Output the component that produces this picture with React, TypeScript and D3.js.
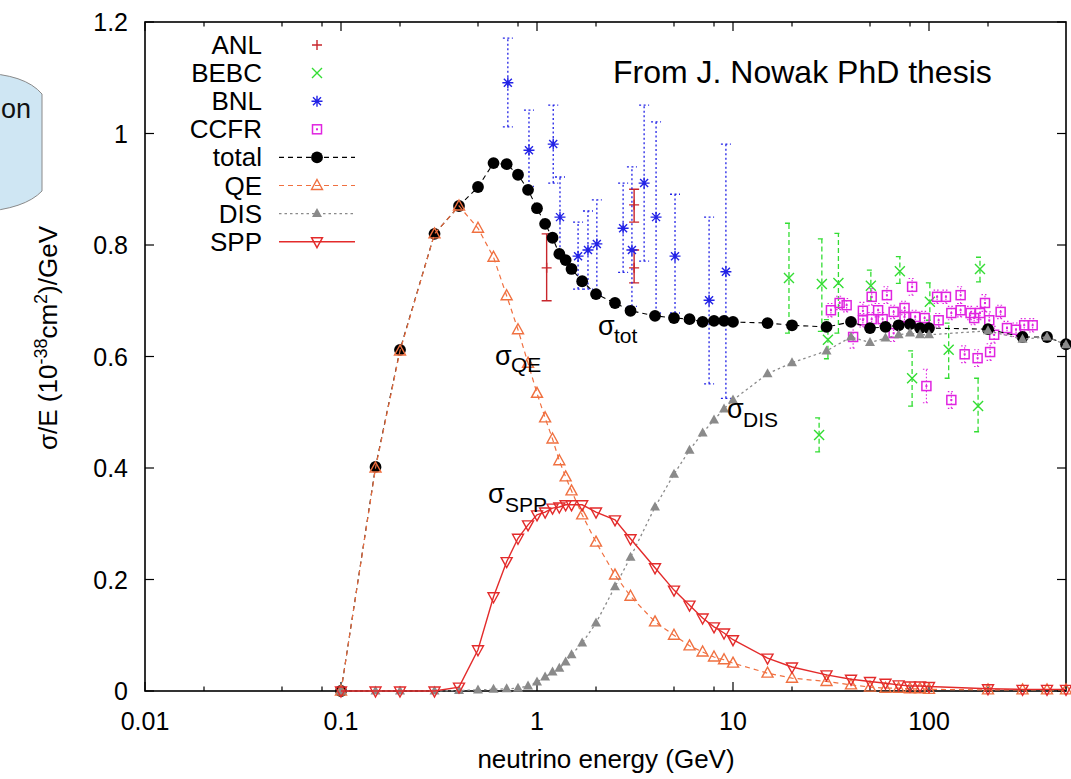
import React from "react";
import * as d3 from "d3";

// ---- model curves (energy grid in GeV) ----
const energies = [0.1, 0.15, 0.2, 0.3, 0.4, 0.5, 0.6, 0.7, 0.8, 0.9, 1.0, 1.1, 1.2, 1.3, 1.4, 1.5, 1.7, 2, 2.5, 3, 4, 5, 6, 7, 8, 9, 10, 15, 20, 30, 40, 50, 60, 70, 80, 90, 100, 200, 300, 400, 500];
const totalVals = [0, 0.402, 0.612, 0.820, 0.870, 0.904, 0.947, 0.945, 0.926, 0.899, 0.866, 0.838, 0.813, 0.784, 0.773, 0.757, 0.735, 0.712, 0.696, 0.682, 0.673, 0.669, 0.667, 0.662, 0.664, 0.664, 0.662, 0.660, 0.656, 0.653, 0.662, 0.651, 0.653, 0.656, 0.658, 0.651, 0.651, 0.649, 0.635, 0.635, 0.622];
const qeVals = [0, 0.40, 0.61, 0.82, 0.87, 0.830, 0.778, 0.709, 0.648, 0.588, 0.534, 0.490, 0.452, 0.413, 0.384, 0.359, 0.316, 0.267, 0.208, 0.170, 0.124, 0.100, 0.081, 0.070, 0.061, 0.056, 0.050, 0.032, 0.023, 0.017, 0.011, 0.007, 0.005, 0.005, 0.004, 0.004, 0.003, 0.002, 0.002, 0.002, 0.002];
const disVals = [0, 0, 0, 0, 0.001, 0.002, 0.003, 0.004, 0.005, 0.009, 0.016, 0.025, 0.034, 0.041, 0.052, 0.065, 0.086, 0.122, 0.187, 0.240, 0.330, 0.389, 0.432, 0.463, 0.486, 0.506, 0.522, 0.569, 0.589, 0.610, 0.635, 0.625, 0.633, 0.639, 0.642, 0.639, 0.639, 0.646, 0.631, 0.635, 0.621];
const sppVals = [0, 0, 0, 0, 0.007, 0.074, 0.169, 0.232, 0.274, 0.298, 0.316, 0.321, 0.328, 0.330, 0.334, 0.334, 0.334, 0.321, 0.307, 0.273, 0.221, 0.181, 0.154, 0.131, 0.115, 0.104, 0.092, 0.059, 0.043, 0.029, 0.021, 0.017, 0.014, 0.011, 0.009, 0.009, 0.008, 0.004, 0.003, 0.003, 0.003];

// ---- experimental data ----
const anlE = [1.12, 3.13, 3.13];
const anlV = [0.759, 0.872, 0.759];
const anlLo = [0.700, 0.841, 0.732];
const anlHi = [0.820, 0.900, 0.791];

const bnlE = [0.71, 0.91, 1.21, 1.31, 1.62, 1.82, 2.02, 2.75, 3.05, 3.52, 4.05, 5.06, 7.55, 9.2];
const bnlV = [1.091, 0.970, 0.981, 0.850, 0.780, 0.791, 0.802, 0.830, 0.791, 0.911, 0.850, 0.780, 0.701, 0.752];
const bnlLo = [1.012, 0.905, 0.911, 0.780, 0.721, 0.721, 0.710, 0.751, 0.690, 0.771, 0.678, 0.678, 0.551, 0.525];
const bnlHi = [1.171, 1.042, 1.051, 0.922, 0.841, 0.861, 0.881, 0.911, 0.940, 1.051, 1.021, 0.891, 0.850, 0.981];

const bebcE = [19.3, 28.4, 27.5, 30.5, 34.5, 50.5, 71, 82, 101, 126, 178, 182];
const bebcV = [0.741, 0.730, 0.459, 0.630, 0.732, 0.727, 0.753, 0.561, 0.698, 0.612, 0.511, 0.757];
const bebcLo = [0.642, 0.645, 0.429, 0.596, 0.642, 0.700, 0.731, 0.511, 0.665, 0.561, 0.465, 0.734];
const bebcHi = [0.839, 0.811, 0.490, 0.666, 0.821, 0.755, 0.779, 0.610, 0.732, 0.660, 0.561, 0.778];

const ccfrE = [31.6, 35, 38, 41, 46, 46, 51, 51, 55, 58, 61, 66, 66, 75, 75, 82, 85, 95, 110, 112, 122, 130, 145, 145, 163, 170, 182, 193, 203, 215, 232, 250, 278, 306, 338, 152, 177, 205, 97, 130];
const ccfrV = [0.683, 0.696, 0.692, 0.635, 0.682, 0.665, 0.707, 0.667, 0.683, 0.667, 0.710, 0.680, 0.642, 0.687, 0.671, 0.725, 0.671, 0.669, 0.707, 0.665, 0.707, 0.678, 0.710, 0.683, 0.678, 0.669, 0.678, 0.696, 0.665, 0.639, 0.680, 0.651, 0.648, 0.656, 0.656, 0.604, 0.597, 0.608, 0.547, 0.522];
const ccfrErr = [0.012, 0.012, 0.012, 0.02, 0.015, 0.012, 0.015, 0.012, 0.012, 0.012, 0.015, 0.012, 0.015, 0.012, 0.012, 0.015, 0.012, 0.012, 0.012, 0.012, 0.012, 0.012, 0.015, 0.012, 0.012, 0.012, 0.012, 0.015, 0.015, 0.015, 0.012, 0.012, 0.012, 0.012, 0.012, 0.015, 0.015, 0.015, 0.03, 0.015];

const xMajorTicks = [0.01, 0.1, 1, 10, 100];
const xTickLabels = ["0.01", "0.1", "1", "10", "100"];
const xMinorTicks = [0.02, 0.05, 0.08, 0.2, 0.5, 0.8, 2, 5, 8, 20, 50, 80, 200];
const yTicks = [0, 0.2, 0.4, 0.6, 0.8, 1.0, 1.2];
const yTickLabels = ["0", "0.2", "0.4", "0.6", "0.8", "1", "1.2"];

const legendNames = ["ANL", "BEBC", "BNL", "CCFR", "total", "QE", "DIS", "SPP"];

const FONT = "'Liberation Sans', Arial, Helvetica, sans-serif";
const C_ANL = "#c8262c";
const C_BEBC = "#33dd33";
const C_BNL = "#2222e6";
const C_CCFR = "#e024e0";
const C_QE = "#f07040";
const C_DIS = "#8a8a8a";
const C_SPP = "#e32b2b";

const L = 145, R = 1066, T = 22, B = 691;

const x = d3.scaleLog().domain([0.01, 500]).range([L, R]);
const y = d3.scaleLinear().domain([0, 1.2]).range([B, T]);

type MP = { cx: number; cy: number; c: string };

const Plus = ({ cx, cy, c }: MP) => (
  <path d={`M${cx - 5},${cy}h10M${cx},${cy - 5}v10`} stroke={c} strokeWidth={1.4} fill="none" />
);
const Cross = ({ cx, cy, c }: MP) => (
  <path d={`M${cx - 5},${cy - 5}l10,10M${cx - 5},${cy + 5}l10,-10`} stroke={c} strokeWidth={1.4} fill="none" />
);
const Star = ({ cx, cy, c }: MP) => (
  <path d={`M${cx - 5.5},${cy}h11M${cx},${cy - 5.5}v11M${cx - 4},${cy - 4}l8,8M${cx - 4},${cy + 4}l8,-8`} stroke={c} strokeWidth={1.4} fill="none" />
);
const Square = ({ cx, cy, c }: MP) => (
  <g>
    <rect x={cx - 4.5} y={cy - 4.5} width={9} height={9} stroke={c} strokeWidth={1.5} fill="none" />
    <rect x={cx - 1} y={cy - 1} width={2} height={2} fill={c} />
  </g>
);
const Dot = ({ cx, cy, c }: MP) => <circle cx={cx} cy={cy} r={5.9} fill={c} />;
const TriUp = ({ cx, cy, c }: MP) => (
  <path d={`M${cx},${cy - 6}L${cx + 5.5},${cy + 4}L${cx - 5.5},${cy + 4}Z`} stroke={c} strokeWidth={1.4} fill="none" />
);
const TriUpFilled = ({ cx, cy, c }: MP) => (
  <path d={`M${cx},${cy - 5.5}L${cx + 5},${cy + 3.5}L${cx - 5},${cy + 3.5}Z`} fill={c} />
);
const TriDown = ({ cx, cy, c }: MP) => (
  <path d={`M${cx},${cy + 6}L${cx + 5.5},${cy - 4}L${cx - 5.5},${cy - 4}Z`} stroke={c} strokeWidth={1.4} fill="none" />
);

function ErrBars({ es, lo, hi, c, dash, w, cap }: { es: number[]; lo: number[]; hi: number[]; c: string; dash?: string; w: number; cap: number }) {
  return (
    <g stroke={c} strokeWidth={w} strokeDasharray={dash} fill="none">
      {es.map((e, i) => {
        const px = x(e);
        return (
          <path
            key={i}
            d={`M${px},${y(lo[i])}V${y(hi[i])}M${px - cap},${y(hi[i])}h${2 * cap}M${px - cap},${y(lo[i])}h${2 * cap}`}
          />
        );
      })}
    </g>
  );
}

const lineGen = d3
  .line<number>()
  .x((_, i) => x(energies[i]))
  .y((v) => y(v));

export default function App() {
  const series = [
    { vals: totalVals, c: "#000", dash: "5,4", w: 1.1, M: Dot },
    { vals: qeVals, c: C_QE, dash: "5,4", w: 1.2, M: TriUp },
    { vals: disVals, c: C_DIS, dash: "2.5,3", w: 1.3, M: TriUpFilled },
    { vals: sppVals, c: C_SPP, dash: undefined, w: 1.4, M: TriDown },
  ];
  const legendMarkers = [
    { M: Plus, c: C_ANL },
    { M: Cross, c: C_BEBC },
    { M: Star, c: C_BNL },
    { M: Square, c: C_CCFR },
    { M: Dot, c: "#000", line: true, dash: "5,4", w: 1.1 },
    { M: TriUp, c: C_QE, line: true, dash: "5,4", w: 1.2 },
    { M: TriUpFilled, c: C_DIS, line: true, dash: "2.5,3", w: 1.3 },
    { M: TriDown, c: C_SPP, line: true, dash: undefined, w: 1.4 },
  ];

  return (
    <svg width={1071} height={779} style={{ position: "absolute", left: 0, top: 0, background: "#fff" }} fontFamily={FONT}>
      <rect x={0} y={0} width={1071} height={779} fill="#fff" />

      {/* cut-off slide shape at left */}
      <path d="M-20,73 Q25,74 42,94 L42,191 Q25,209 -20,212 Z" fill="#cfe6f3" stroke="#8a8a8a" strokeWidth={1} />
      <text x={31} y={118} fontSize={27} textAnchor="end" fill="#111">on</text>

      {/* frame */}
      <rect x={L} y={T} width={R - L} height={B - T} fill="none" stroke="#000" strokeWidth={1.6} />

      {/* ticks */}
      <g stroke="#000" strokeWidth={1.2}>
        {xMajorTicks.map((t) => (
          <g key={"M" + t}>
            <line x1={x(t)} x2={x(t)} y1={B} y2={B - 9} />
            <line x1={x(t)} x2={x(t)} y1={T} y2={T + 9} />
          </g>
        ))}
        {xMinorTicks.map((t) => (
          <g key={"m" + t}>
            <line x1={x(t)} x2={x(t)} y1={B} y2={B - 4.5} />
            <line x1={x(t)} x2={x(t)} y1={T} y2={T + 4.5} />
          </g>
        ))}
        {yTicks.map((t) => (
          <g key={"y" + t}>
            <line x1={L} x2={L + 9} y1={y(t)} y2={y(t)} />
            <line x1={R} x2={R - 9} y1={y(t)} y2={y(t)} />
          </g>
        ))}
      </g>
      <g fontSize={25} fill="#000">
        {xMajorTicks.map((t, i) => (
          <text key={t} x={x(t)} y={730} textAnchor="middle">{xTickLabels[i]}</text>
        ))}
        {yTicks.map((t, i) => (
          <text key={t} x={128} y={y(t) + 9} textAnchor="end">{yTickLabels[i]}</text>
        ))}
      </g>

      {/* axis titles */}
      <text x={606} y={768} fontSize={26} textAnchor="middle">neutrino energy (GeV)</text>
      <text transform="rotate(-90)" x={-338} y={57} fontSize={26} textAnchor="middle">
        σ/E (10<tspan dy={-10} fontSize={18}>-38</tspan><tspan dy={10}>cm</tspan><tspan dy={-10} fontSize={18}>2</tspan><tspan dy={10}>)/GeV</tspan>
      </text>

      {/* experimental data */}
      <ErrBars es={anlE} lo={anlLo} hi={anlHi} c={C_ANL} w={1.4} cap={5} />
      {anlE.map((e, i) => <Plus key={"a" + i} cx={x(e)} cy={y(anlV[i])} c={C_ANL} />)}

      <ErrBars es={bebcE} lo={bebcLo} hi={bebcHi} c={C_BEBC} dash="5,3" w={1.3} cap={4} />
      {bebcE.map((e, i) => <Cross key={"b" + i} cx={x(e)} cy={y(bebcV[i])} c={C_BEBC} />)}

      <ErrBars es={bnlE} lo={bnlLo} hi={bnlHi} c={C_BNL} dash="2,2.5" w={1.3} cap={5} />
      {bnlE.map((e, i) => <Star key={"n" + i} cx={x(e)} cy={y(bnlV[i])} c={C_BNL} />)}

      <ErrBars
        es={ccfrE}
        lo={ccfrV.map((v, i) => v - ccfrErr[i])}
        hi={ccfrV.map((v, i) => v + ccfrErr[i])}
        c={C_CCFR}
        dash="1.5,2"
        w={1.1}
        cap={3.5}
      />
      {ccfrE.map((e, i) => <Square key={"c" + i} cx={x(e)} cy={y(ccfrV[i])} c={C_CCFR} />)}

      {/* model curves */}
      {series.map((s, si) => (
        <g key={si}>
          <path d={lineGen(s.vals) || ""} fill="none" stroke={s.c} strokeWidth={s.w} strokeDasharray={s.dash} />
          {s.vals.map((v, i) => (
            <s.M key={i} cx={x(energies[i])} cy={y(v)} c={s.c} />
          ))}
        </g>
      ))}

      {/* legend */}
      <g fontSize={26}>
        {legendNames.map((n, i) => {
          const ly = 45 + i * 28.1;
          const m = legendMarkers[i];
          return (
            <g key={n}>
              <text x={262} y={ly + 9} textAnchor="end">{n}</text>
              {m.line && (
                <line x1={279} x2={355} y1={ly} y2={ly} stroke={m.c} strokeWidth={m.w} strokeDasharray={m.dash} />
              )}
              <m.M cx={317} cy={ly} c={m.c} />
            </g>
          );
        })}
      </g>

      {/* curve labels */}
      <g fill="#000">
        <text x={598} y={335} fontSize={27}>σ</text>
        <text x={614} y={343} fontSize={21}>tot</text>
        <text x={495} y={365} fontSize={27}>σ</text>
        <text x={511} y={372} fontSize={21}>QE</text>
        <text x={727} y={418} fontSize={27}>σ</text>
        <text x={743} y={427} fontSize={21}>DIS</text>
        <text x={488} y={503} fontSize={27}>σ</text>
        <text x={505} y={512} fontSize={21}>SPP</text>
      </g>

      <text x={613} y={83} fontSize={32} fill="#000">From J. Nowak PhD thesis</text>
    </svg>
  );
}
